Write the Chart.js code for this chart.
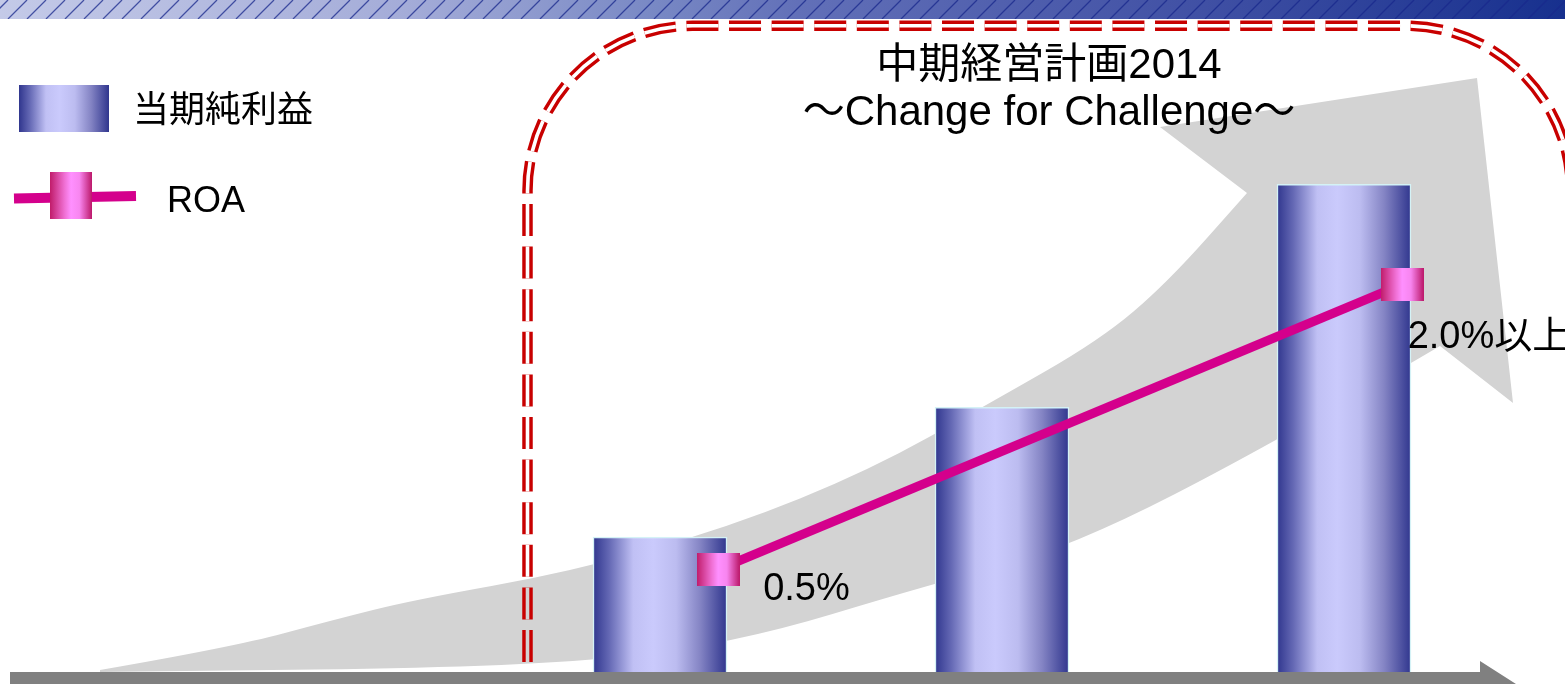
<!DOCTYPE html>
<html>
<head>
<meta charset="utf-8">
<script src="https://cdn.jsdelivr.net/npm/chart.js@4"></script>
<style>
  html, body { margin: 0; padding: 0; background: #fff; }
  #plan { display: block; }
</style>
</head>
<body>
<canvas id="plan" width="1565" height="684"></canvas>
<script>
// 当期純利益 (index) per period, and ROA (%) plotted next to each bar
const periods = ['FY1', 'FY2', 'FY3'];
const netIncome = [20.7, 40.6, 74.8];
const roa = [0.5, null, 2.0];
const roaPos = [0.17, 1.17, 2.17];
const roaSuffix = ['', '', '以上'];

const titleLines = ['中期経営計画2014', '〜Change for Challenge〜'];
const legendLabels = ['当期純利益', 'ROA'];

const FONT = '"Liberation Sans", Arial, "Noto Sans CJK JP", sans-serif';
const BAR_W = 134;

function barGradient(ctx, x0, x1) {
  const g = ctx.createLinearGradient(x0, 0, x1, 0);
  g.addColorStop(0, '#30368e');
  g.addColorStop(0.12, '#6468b4');
  g.addColorStop(0.3, '#c0c0f4');
  g.addColorStop(0.45, '#cacafc');
  g.addColorStop(0.62, '#bcbcf0');
  g.addColorStop(0.8, '#8484c4');
  g.addColorStop(1, '#30368e');
  return g;
}

function pinkGradient(ctx, x0, x1) {
  const g = ctx.createLinearGradient(x0, 0, x1, 0);
  g.addColorStop(0, '#c01c6a');
  g.addColorStop(0.35, '#f070d4');
  g.addColorStop(0.5, '#ff90ff');
  g.addColorStop(0.7, '#f886f0');
  g.addColorStop(1, '#bc186a');
  return g;
}

function makeMarker(w, h) {
  const c = document.createElement('canvas');
  c.width = w; c.height = h;
  const cx = c.getContext('2d');
  cx.fillStyle = pinkGradient(cx, 0, w);
  cx.fillRect(0, 0, w, h);
  return c;
}
const roaMarker = makeMarker(43, 33);
const legendMarker = makeMarker(42, 47);

// quadratic smoothing through midpoints
function smooth(ctx, pts, start) {
  if (start) ctx.moveTo(pts[0][0], pts[0][1]);
  else ctx.lineTo(pts[0][0], pts[0][1]);
  for (let i = 1; i < pts.length - 1; i++) {
    const mx = (pts[i][0] + pts[i + 1][0]) / 2;
    const my = (pts[i][1] + pts[i + 1][1]) / 2;
    ctx.quadraticCurveTo(pts[i][0], pts[i][1], mx, my);
  }
  const last = pts[pts.length - 1];
  ctx.lineTo(last[0], last[1]);
}

// page decoration behind the data: header band, big grey arrow, red frame, base arrow
const backdrop = {
  id: 'backdrop',
  beforeDatasetsDraw(chart) {
    const ctx = chart.ctx;
    const W = chart.width;
    ctx.save();

    // hatched header band
    const band = ctx.createLinearGradient(0, 0, W, 0);
    band.addColorStop(0, '#c4cae8');
    band.addColorStop(0.26, '#a4acd8');
    band.addColorStop(0.42, '#7888c4');
    band.addColorStop(0.51, '#6270b8');
    band.addColorStop(0.77, '#4050a4');
    band.addColorStop(1, '#17308e');
    ctx.fillStyle = band;
    ctx.fillRect(0, 0, W, 19);
    ctx.save();
    ctx.beginPath();
    ctx.rect(0, 0, W, 19);
    ctx.clip();
    ctx.strokeStyle = 'rgba(24,40,140,0.75)';
    ctx.lineWidth = 1.3;
    ctx.beginPath();
    for (let x = -30; x < W + 30; x += 19) {
      ctx.moveTo(x, 19);
      ctx.lineTo(x + 19, 0);
    }
    ctx.stroke();
    ctx.restore();

    // big curved grey arrow
    const upper = [[100, 670], [233, 647], [333, 620], [413, 600], [570, 572], [730, 527],
      [870, 470], [990, 403], [1100, 340], [1167, 283], [1247, 193]];
    const lower = [[1440, 346], [1280, 440], [1070, 548], [935, 583], [730, 645], [530, 667], [100, 672]];
    ctx.fillStyle = '#d3d3d3';
    ctx.beginPath();
    smooth(ctx, upper, true);
    ctx.lineTo(1160, 127);
    ctx.lineTo(1477, 78);
    ctx.lineTo(1513, 403);
    ctx.lineTo(1440, 346);
    smooth(ctx, lower, false);
    ctx.closePath();
    ctx.fill();

    // double dashed red frame, right side runs past the edge
    const off = document.createElement('canvas');
    off.width = W; off.height = chart.height;
    const o = off.getContext('2d');
    const framePath = () => {
      const l = 527.5, t = 25.8, r = 1571, b = 662, rad = 165;
      o.beginPath();
      o.moveTo(l, b);
      o.lineTo(l, t + rad);
      o.arcTo(l, t, l + rad, t, rad);
      o.lineTo(r - rad, t);
      o.arcTo(r, t, r, t + rad, rad);
      o.lineTo(r, b);
    };
    o.setLineDash([32, 10.6]);
    o.lineCap = 'butt';
    framePath();
    o.strokeStyle = '#c80000';
    o.lineWidth = 10.5;
    o.stroke();
    o.globalCompositeOperation = 'destination-out';
    framePath();
    o.lineWidth = 3.6;
    o.stroke();
    ctx.drawImage(off, 0, 0);

    // base arrow
    ctx.fillStyle = '#808080';
    ctx.beginPath();
    ctx.moveTo(10, 672);
    ctx.lineTo(1480, 672);
    ctx.lineTo(1480, 661);
    ctx.lineTo(1516, 684);
    ctx.lineTo(1480, 707);
    ctx.lineTo(10, 707);
    ctx.closePath();
    ctx.fill();

    ctx.restore();
  },
  afterDatasetsDraw(chart) {
    const ctx = chart.ctx;
    ctx.save();
    ctx.fillStyle = '#000';
    ctx.textBaseline = 'alphabetic';

    // ROA value labels
    const labelOffset = [[45, 30.5], [0, 0], [5.5, 63.5]];
    ctx.font = '38px ' + FONT;
    ctx.textAlign = 'left';
    chart.getDatasetMeta(1).data.forEach((pt, i) => {
      if (roa[i] == null) return;
      ctx.fillText(roa[i].toFixed(1) + '%' + roaSuffix[i], pt.x + labelOffset[i][0], pt.y + labelOffset[i][1]);
    });

    // title
    ctx.textAlign = 'center';
    ctx.font = '42px ' + FONT;
    ctx.fillText(titleLines[0], 1049, 78);
    ctx.fillText(titleLines[1], 1049, 125);

    // legend
    ctx.fillStyle = barGradient(ctx, 19, 109);
    ctx.fillRect(19, 85, 90, 47);
    ctx.strokeStyle = '#d4008c';
    ctx.lineWidth = 10;
    ctx.beginPath();
    ctx.moveTo(14, 198.5);
    ctx.lineTo(136, 196);
    ctx.stroke();
    ctx.drawImage(legendMarker, 50, 172);
    ctx.fillStyle = '#000';
    ctx.textAlign = 'left';
    ctx.font = '36px ' + FONT;
    ctx.fillText(legendLabels[0], 133, 122);
    ctx.fillText(legendLabels[1], 167, 212);
    ctx.restore();
  }
};

new Chart(document.getElementById('plan'), {
  type: 'bar',
  data: {
    labels: periods,
    datasets: [
      {
        label: legendLabels[0],
        data: netIncome,
        order: 1,
        grouped: false,
        barThickness: BAR_W,
        borderWidth: 1.5,
        borderColor: '#d4f2f6',
        borderSkipped: 'bottom',
        backgroundColor: (c) => {
          const xs = c.chart.scales.x;
          const cx = xs && c.dataIndex != null ? xs.getPixelForValue(c.dataIndex) : NaN;
          if (!Number.isFinite(cx)) return '#9a9ad8';
          return barGradient(c.chart.ctx, cx - BAR_W / 2, cx + BAR_W / 2);
        }
      },
      {
        type: 'line',
        label: legendLabels[1],
        data: roaPos.map((x, i) => ({ x: x, y: roa[i] })),
        xAxisID: 'x2',
        yAxisID: 'y2',
        order: 0,
        spanGaps: true,
        borderColor: '#d4008c',
        borderWidth: 9,
        tension: 0,
        pointStyle: roaMarker,
        pointRadius: 2,
        pointHoverRadius: 2
      }
    ]
  },
  options: {
    responsive: false,
    animation: false,
    events: [],
    layout: { autoPadding: false, padding: { left: 489, right: 50, top: 20, bottom: 12 } },
    plugins: { legend: { display: false }, tooltip: { enabled: false }, title: { display: false } },
    scales: {
      x: { display: false, offset: true },
      y: { display: false, min: 0, max: 100 },
      x2: { type: 'linear', display: false, offset: false, min: -0.5, max: 2.5 },
      y2: { display: false, min: -0.0395, max: 3.392 }
    }
  },
  plugins: [backdrop]
});
</script>
</body>
</html>
